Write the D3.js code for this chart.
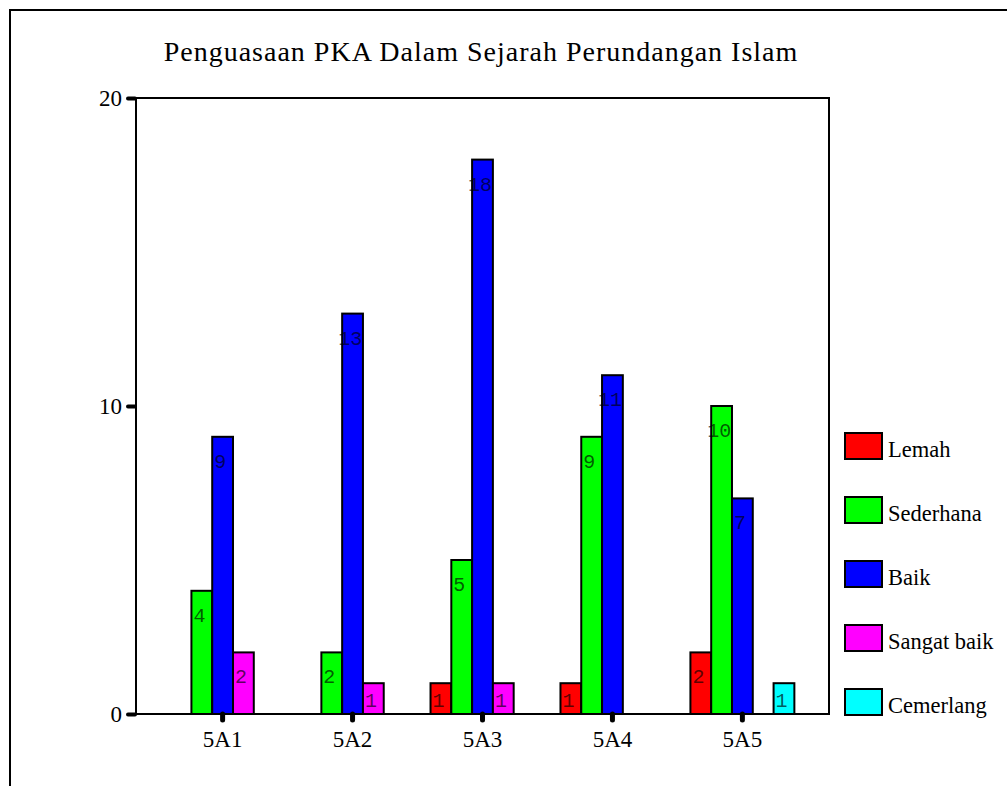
<!DOCTYPE html>
<html>
<head>
<meta charset="utf-8">
<script src="https://cdn.jsdelivr.net/npm/d3@7"></script>
<style>
  html, body { margin: 0; padding: 0; background: #fff; overflow: hidden; }
  svg { display: block; }
</style>
</head>
<body>
<svg id="chart" width="1007" height="786"></svg>
<script>
const title = "Penguasaan PKA Dalam Sejarah Perundangan Islam";
const categories = ["5A1", "5A2", "5A3", "5A4", "5A5"];
const seriesNames = ["Lemah", "Sederhana", "Baik", "Sangat baik", "Cemerlang"];
const seriesColors = ["#ff0000", "#00ff00", "#0000ff", "#ff00ff", "#00ffff"];
const lemah = [0, 0, 1, 1, 2];
const sederhana = [4, 2, 5, 9, 10];
const baik = [9, 13, 18, 11, 7];
const sangatBaik = [2, 1, 1, 0, 0];
const cemerlang = [0, 0, 0, 0, 1];
const yTicks = [0, 10, 20];

const seriesValues = [lemah, sederhana, baik, sangatBaik, cemerlang];
const data = [];
categories.forEach((c, ci) => {
  seriesNames.forEach((s, si) => {
    const v = seriesValues[si][ci];
    if (v > 0) data.push({ cat: c, series: s, value: v, color: seriesColors[si] });
  });
});

const svg = d3.select("#chart");
const plot = { left: 136, top: 98, right: 829, bottom: 714 };
const serif = "'Liberation Serif', 'Times New Roman', serif";

// outer frame (extends beyond the window on right/bottom)
svg.append("rect")
  .attr("x", 10).attr("y", 10).attr("width", 1020).attr("height", 820)
  .attr("fill", "none").attr("stroke", "#000").attr("stroke-width", 2);

svg.append("text")
  .attr("x", 481).attr("y", 61)
  .attr("text-anchor", "middle")
  .attr("font-family", serif)
  .attr("font-size", 28)
  .attr("letter-spacing", 1)
  .attr("fill", "#000")
  .text(title);

const x = d3.scaleBand().domain(categories)
  .range([plot.left, plot.right]).paddingInner(0.2).paddingOuter(0.2665);
const xs = d3.scaleBand().domain(seriesNames).range([0, x.bandwidth()]);
const y = d3.scaleLinear().domain([0, 20]).range([plot.bottom, plot.top]);

// plot frame
svg.append("rect")
  .attr("x", plot.left).attr("y", plot.top)
  .attr("width", plot.right - plot.left).attr("height", plot.bottom - plot.top)
  .attr("fill", "none").attr("stroke", "#000").attr("stroke-width", 2);

// bars
svg.append("g").selectAll("rect").data(data).join("rect")
  .attr("x", d => x(d.cat) + xs(d.series))
  .attr("y", d => y(d.value))
  .attr("width", xs.bandwidth())
  .attr("height", d => y(0) - y(d.value))
  .attr("fill", d => d.color)
  .attr("stroke", "#000").attr("stroke-width", 2);

// bar labels
svg.append("g").selectAll("text").data(data).join("text")
  .attr("x", d => x(d.cat) + xs(d.series) + 8)
  .attr("y", d => Math.min(y(d.value) + 31, y(0) - 7))
  .attr("text-anchor", "middle")
  .attr("font-family", "'Liberation Mono', 'Courier New', monospace")
  .attr("font-size", 20)
  .attr("fill", "#000").attr("fill-opacity", 0.65)
  .text(d => d.value);

// y axis
const yAxis = svg.append("g")
  .attr("transform", `translate(${plot.left - 1},0)`)
  .call(d3.axisLeft(y).tickValues(yTicks).tickSize(7).tickPadding(6).tickFormat(d3.format("d")));
yAxis.select(".domain").remove();
yAxis.selectAll(".tick line").attr("stroke", "#000").attr("stroke-width", 4).attr("stroke-linecap", "round");
yAxis.selectAll(".tick text")
  .attr("font-family", serif)
  .attr("font-size", 23).attr("fill", "#000");

// x axis
const xAxis = svg.append("g")
  .attr("transform", `translate(0,${plot.bottom})`)
  .call(d3.axisBottom(x).tickSize(6).tickPadding(11));
xAxis.select(".domain").remove();
xAxis.selectAll(".tick line").attr("stroke", "#000").attr("stroke-width", 5).attr("stroke-linecap", "round");
xAxis.selectAll(".tick text")
  .attr("font-family", serif)
  .attr("font-size", 23).attr("fill", "#000");

// legend
const legend = svg.append("g").selectAll("g").data(seriesNames).join("g")
  .attr("transform", (d, i) => `translate(845,${433 + i * 64})`);
legend.append("rect")
  .attr("width", 37).attr("height", 26)
  .attr("fill", (d, i) => seriesColors[i])
  .attr("stroke", "#000").attr("stroke-width", 2);
legend.append("text")
  .attr("x", 43).attr("y", 24)
  .attr("font-family", serif)
  .attr("font-size", 22.5).attr("fill", "#000")
  .text(d => d);
</script>
</body>
</html>
